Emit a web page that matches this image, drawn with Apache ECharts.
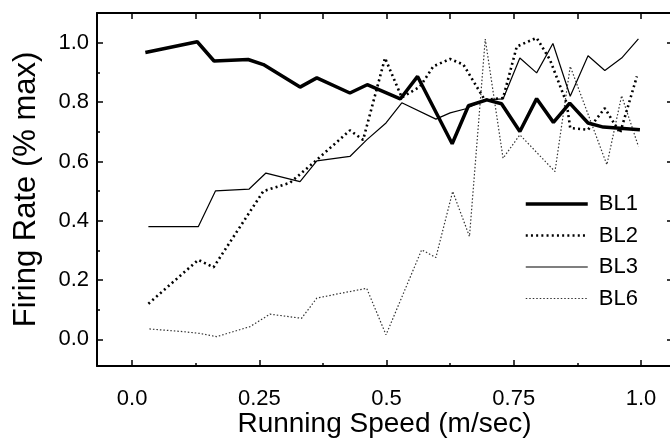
<!DOCTYPE html>
<html>
<head>
<meta charset="utf-8">
<script src="https://cdn.jsdelivr.net/npm/echarts@6/dist/echarts.min.js"></script>
<style>
html,body{margin:0;padding:0;background:#fff;}
#c{width:670px;height:439px;}
</style>
</head>
<body>
<div id="c"></div>
<script>
// ---- data ----
var xTickValues = [0, 0.25, 0.5, 0.75, 1.0];
var xTickLabels = ['0.0', '0.25', '0.5', '0.75', '1.0'];
var xMinorTicks = [0.125, 0.375, 0.625, 0.875];
var xTopTicks = [0, 0.125, 0.25, 0.375, 0.5, 0.625, 0.75, 0.875, 1.0];
var yTickValues = [0, 0.2, 0.4, 0.6, 0.8, 1.0];
var yTickLabels = ['0.0', '0.2', '0.4', '0.6', '0.8', '1.0'];
var yMinorTicks = [0.1, 0.3, 0.5, 0.7, 0.9];

var bl1Speed = [0.026,0.128,0.161,0.228,0.258,0.330,0.363,0.428,0.462,0.527,0.561,0.629,0.661,0.697,0.726,0.762,0.795,0.828,0.860,0.896,0.926,0.998];
var bl1Rate  = [0.968,1.004,0.939,0.944,0.927,0.851,0.882,0.831,0.859,0.811,0.887,0.660,0.788,0.808,0.795,0.701,0.812,0.732,0.797,0.730,0.716,0.707];

var bl2Speed = [0.032,0.130,0.160,0.258,0.310,0.356,0.428,0.454,0.497,0.530,0.566,0.592,0.625,0.651,0.671,0.693,0.729,0.756,0.795,0.821,0.854,0.861,0.896,0.929,0.959,0.992];
var bl2Rate  = [0.120,0.268,0.243,0.500,0.528,0.595,0.705,0.673,0.949,0.816,0.853,0.921,0.946,0.927,0.870,0.808,0.814,0.988,1.017,0.944,0.797,0.713,0.707,0.780,0.696,0.887];

var bl3Speed = [0.032,0.130,0.164,0.230,0.263,0.330,0.363,0.428,0.461,0.499,0.530,0.597,0.625,0.656,0.692,0.729,0.762,0.795,0.827,0.861,0.896,0.929,0.962,0.995];
var bl3Rate  = [0.380,0.380,0.501,0.507,0.561,0.532,0.602,0.617,0.673,0.730,0.798,0.743,0.764,0.778,0.808,0.811,0.949,0.899,0.998,0.820,0.957,0.907,0.949,1.014];

var bl6Speed = [0.034,0.100,0.133,0.166,0.232,0.271,0.310,0.333,0.363,0.409,0.461,0.499,0.569,0.597,0.630,0.663,0.694,0.729,0.762,0.831,0.861,0.933,0.962,0.995];
var bl6Rate  = [0.035,0.026,0.020,0.009,0.043,0.085,0.076,0.071,0.139,0.155,0.172,0.015,0.302,0.276,0.499,0.347,1.013,0.611,0.690,0.566,0.921,0.589,0.822,0.651];

var seriesNames = ['BL1', 'BL2', 'BL3', 'BL6'];

// ---- chart ----
function pairs(xs, ys) { return xs.map(function (x, i) { return [x, ys[i]]; }); }
var FONT = "'Liberation Sans', Arial, sans-serif";
var X_MIN = -0.069, X_MAX = 1.061, Y_MIN = -0.090, Y_MAX = 1.101;
var black = '#000';

function xAxisBase(pos) {
  return {
    type: 'value', position: pos, min: X_MIN, max: X_MAX,
    splitLine: { show: false }, axisLine: { show: false, onZero: false, lineStyle: { color: black, width: 2 } },
    axisTick: { show: false }, axisLabel: { show: false }
  };
}
function yAxisBase(pos) {
  return {
    type: 'value', position: pos, min: Y_MIN, max: Y_MAX,
    splitLine: { show: false }, axisLine: { show: false, onZero: false, lineStyle: { color: black, width: 2 } },
    axisTick: { show: false }, axisLabel: { show: false }
  };
}

var xMain = xAxisBase('bottom');
xMain.axisLine.show = true;
xMain.axisTick = { show: true, inside: true, length: 6, customValues: xTickValues, lineStyle: { color: black, width: 1.5 } };
xMain.axisLabel = { show: true, customValues: xTickValues, margin: 22, fontSize: 22, color: black, fontFamily: FONT,
  formatter: function (v) { var i = xTickValues.indexOf(v); return i >= 0 ? xTickLabels[i] : ''; } };
xMain.name = 'Running Speed (m/sec)';
xMain.nameLocation = 'middle';
xMain.nameGap = 44;
xMain.nameMoveOverlap = false;
xMain.nameTextStyle = { fontSize: 28, color: black, fontFamily: FONT };

var xMinor = xAxisBase('bottom');
xMinor.axisTick = { show: true, inside: true, length: 3, customValues: xMinorTicks, lineStyle: { color: black, width: 1.5 } };

var xTop = xAxisBase('top');
xTop.axisLine.show = true;
xTop.axisTick = { show: true, inside: true, length: 6, customValues: xTopTicks, lineStyle: { color: black, width: 1.5 } };

var yMain = yAxisBase('left');
yMain.axisLine.show = true;
yMain.axisTick = { show: true, inside: true, length: 6, customValues: yTickValues, lineStyle: { color: black, width: 1.5 } };
yMain.axisLabel = { show: true, customValues: yTickValues, margin: 8, fontSize: 22, color: black, fontFamily: FONT,
  formatter: function (v) { var i = yTickValues.indexOf(v); return i >= 0 ? yTickLabels[i] : ''; } };
yMain.name = 'Firing Rate (% max)';
yMain.nameLocation = 'middle';
yMain.nameGap = 55;
yMain.nameMoveOverlap = false;
yMain.nameTextStyle = { fontSize: 31, color: black, fontFamily: FONT };

var yMinor = yAxisBase('left');
yMinor.axisTick = { show: true, inside: true, length: 3, customValues: yMinorTicks, lineStyle: { color: black, width: 1.5 } };

var yRight = yAxisBase('right');
yRight.axisLine.show = true;
yRight.axisTick = { show: true, inside: true, length: 5, customValues: yTickValues, lineStyle: { color: black, width: 1.5 } };

var styles = [
  { color: black, width: 3.5, type: 'solid' },
  { color: black, width: 2.6, type: [2, 3.2] },
  { color: black, width: 1.2, type: 'solid' },
  { color: '#333', width: 1.2, type: [1.5, 2] }
];
var dataSets = [pairs(bl1Speed, bl1Rate), pairs(bl2Speed, bl2Rate), pairs(bl3Speed, bl3Rate), pairs(bl6Speed, bl6Rate)];

var series = seriesNames.map(function (n, i) {
  return {
    name: n, type: 'line', xAxisIndex: 0, yAxisIndex: 0,
    data: dataSets[i], symbol: 'none', showSymbol: false, smooth: false,
    lineStyle: styles[i], itemStyle: { color: styles[i].color }, z: 10 - i
  };
});

var legendData = seriesNames.map(function (n, i) {
  return {
    name: n,
    itemStyle: { opacity: 0 },
    lineStyle: { color: styles[i].color, width: styles[i].width, type: styles[i].type }
  };
});

var chart = echarts.init(document.getElementById('c'), null, { renderer: 'canvas' });
chart.setOption({
  animation: false,
  backgroundColor: '#fff',
  grid: { left: 97, top: 13, width: 575, height: 353, containLabel: false, outerBoundsMode: 'none' },
  xAxis: [xMain, xMinor, xTop],
  yAxis: [yMain, yMinor, yRight],
  legend: {
    orient: 'vertical', left: 519, top: 188, itemWidth: 62, itemHeight: 14, itemGap: 9.5,
    selectedMode: false, data: legendData,
    itemStyle: { opacity: 0 },
    textStyle: { fontSize: 22, color: black, fontFamily: FONT, lineHeight: 22, padding: [0, 0, 0, 6] }
  },
  series: series
});
</script>
</body>
</html>
